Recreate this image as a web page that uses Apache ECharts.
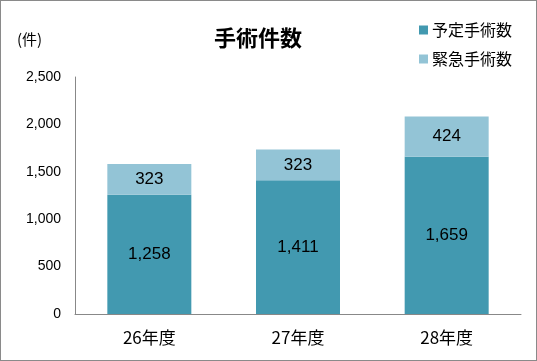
<!DOCTYPE html>
<html><head><meta charset="utf-8">
<script src="https://cdn.jsdelivr.net/npm/echarts@6/dist/echarts.min.js"></script>
<style>
html,body{margin:0;padding:0;background:#fff;}
#c{position:absolute;left:0;top:0;width:535px;height:359px;border:1px solid #8a8a8a;}
</style></head><body>
<div id="c"></div>
<script>
const categories = ['26年度','27年度','28年度'];
const planned = [1258, 1411, 1659];
const emergency = [323, 323, 424];
const seriesNames = ['予定手術数','緊急手術数'];
const yTicks = {min:0, max:2500, interval:500};

const chart = echarts.init(document.getElementById('c'));
const jp = '"Noto Sans CJK JP", sans-serif';
chart.setOption({
  animation:false,
  title:{text:'手術件数', left:252, top:21, textAlign:'center',
    textStyle:{fontFamily:jp, fontSize:22, fontWeight:'bold', color:'#000'}},
  legend:{orient:'vertical', left:413, top:16, itemGap:13, itemWidth:9, itemHeight:9,
    icon:'rect', textStyle:{fontFamily:jp, fontSize:16, color:'#000', padding:[0,0,0,-1]},
    data:seriesNames},
  graphic:[{type:'text', left:16, top:31, style:{text:'(件)', font:'15px "Noto Sans CJK JP"', fill:'#000'}}],
  grid:{left:74, right:15, top:76, bottom:46},
  xAxis:{type:'category', data:categories,
    axisLine:{lineStyle:{color:'#888'}}, axisTick:{show:false},
    axisLabel:{fontFamily:jp, fontSize:17, color:'#000', margin:15}},
  yAxis:{type:'value', min:yTicks.min, max:yTicks.max, interval:yTicks.interval,
    axisLine:{show:true, lineStyle:{color:'#888'}}, axisTick:{show:false},
    splitLine:{show:false},
    axisLabel:{fontFamily:'"Liberation Sans", sans-serif', fontSize:14, color:'#000', margin:14,
      formatter:v=>v.toLocaleString('en-US')}},
  series:[
    {name:seriesNames[0], type:'bar', stack:'s', data:planned, barWidth:'56.5%',
      itemStyle:{color:'#4299B0'},
      label:{show:true, position:'inside', fontSize:17, color:'#000', fontFamily:'"Liberation Sans", sans-serif',
        formatter:p=>p.value.toLocaleString('en-US')}},
    {name:seriesNames[1], type:'bar', stack:'s', data:emergency, barWidth:'56.5%',
      itemStyle:{color:'#93C4D6'},
      label:{show:true, position:'inside', fontSize:17, color:'#000', fontFamily:'"Liberation Sans", sans-serif',
        formatter:p=>p.value.toLocaleString('en-US')}}
  ]
});
</script></body></html>
